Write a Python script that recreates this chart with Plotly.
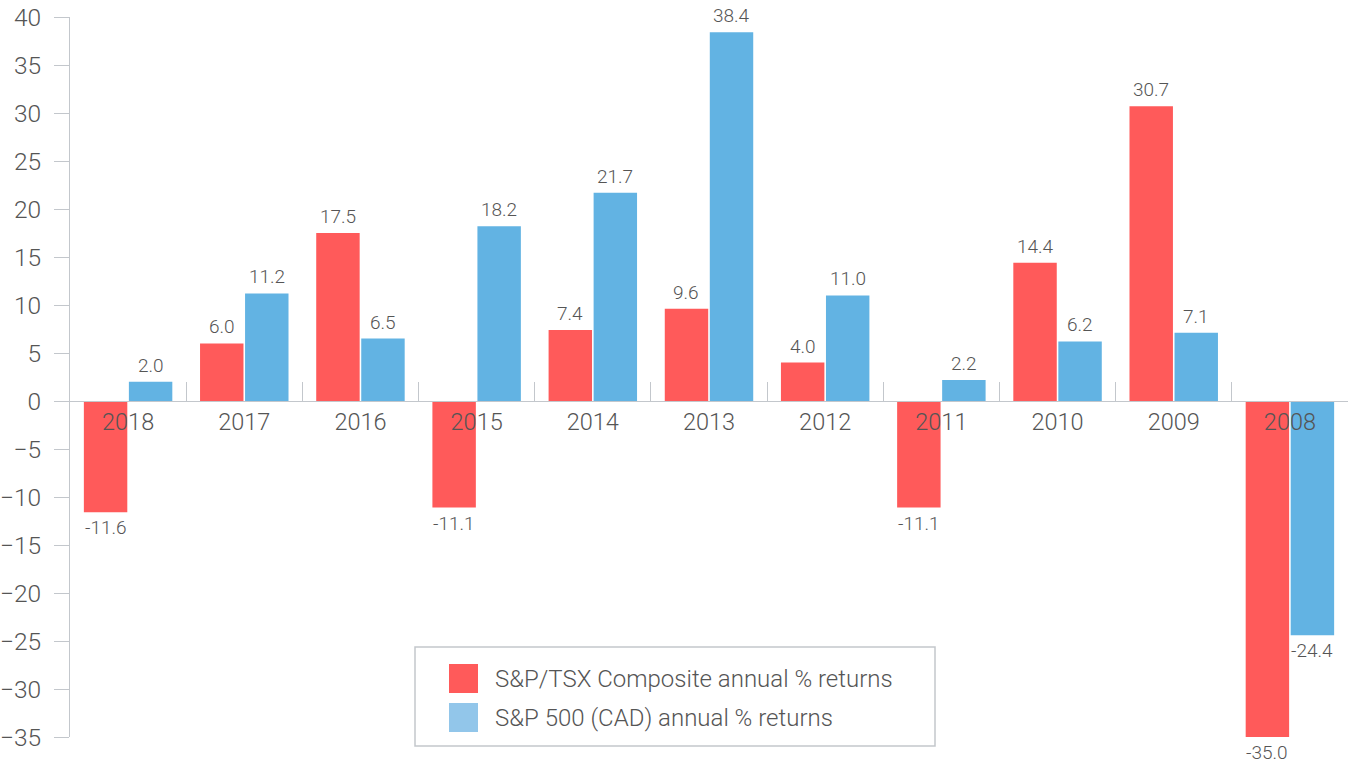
import plotly.graph_objects as go

years = ["2018", "2017", "2016", "2015", "2014", "2013", "2012", "2011", "2010", "2009", "2008"]
tsx = [-11.6, 6.0, 17.5, -11.1, 7.4, 9.6, 4.0, -11.1, 14.4, 30.7, -35.0]
sp500 = [2.0, 11.2, 6.5, 18.2, 21.7, 38.4, 11.0, 2.2, 6.2, 7.1, -24.4]
names = ["S&P/TSX Composite annual % returns", "S&P 500 (CAD) annual % returns"]
y_ticks = list(range(-35, 41, 5))

RED = "#FF5A5A"
BLUE = "#62B3E3"
BLUE_LEG = "#92C6EA"
TXT = "#555555"
AX = "#C3C7CC"
FONT = "Roboto"
WEIGHT = 300

W, H = 1348, 762
ML, MR, MT, MB = 70, 0, 17, 25
BARGAP, GROUPGAP = 0.225, 0.035

fig = go.Figure()
for vals, col, nm in [(tsx, RED, names[0]), (sp500, BLUE, names[1])]:
    fig.add_trace(go.Bar(
        x=years, y=vals, name=nm, marker=dict(color=col, line=dict(width=0)),
        showlegend=False, hoverinfo="x+y",
    ))

# value labels (placed at each bar's value, shifted to its slot in the group)
cat_px = (W - ML - MR) / len(years)
slot = cat_px * (1 - BARGAP) / 2
for k, vals in enumerate([tsx, sp500]):
    shift = (k - 0.5) * slot
    for i, v in enumerate(vals):
        fig.add_annotation(
            x=i, y=v, xref="x", yref="y", showarrow=False,
            text=f"{v:.1f}", xshift=shift,
            yanchor="bottom" if v >= 0 else "top",
            yshift=3 if v >= 0 else -2,
            font=dict(size=19, color=TXT, family=FONT, weight=WEIGHT),
        )

ymin, ymax = -35, 40
zero_pos = (0 - ymin) / (ymax - ymin)

fig.update_layout(
    width=W, height=H,
    margin=dict(l=ML, r=MR, t=MT, b=MB),
    paper_bgcolor="white", plot_bgcolor="white",
    barmode="group", bargap=BARGAP, bargroupgap=GROUPGAP,
    font=dict(family=FONT, color=TXT, weight=WEIGHT),
    xaxis=dict(
        type="category", anchor="free", position=zero_pos,
        range=[-0.5, len(years) - 0.5],
        showline=True, linecolor=AX, linewidth=1,
        ticks="inside", ticklen=19, tickcolor=AX, tickwidth=1,
        tickson="boundaries", showgrid=False,
        tickfont=dict(size=23.5, color=TXT, family=FONT, weight=WEIGHT),
    ),
    yaxis=dict(
        range=[ymin, ymax], tickvals=y_ticks, showgrid=False, zeroline=False,
        showline=True, linecolor=AX, linewidth=1,
        ticks="outside", ticklen=15, tickcolor=AX, tickwidth=1,
        ticklabelstandoff=8,
        tickfont=dict(size=24.5, color=TXT, family=FONT, weight=WEIGHT),
    ),
)

# custom legend box (positions in pixels converted to plot-paper fractions)
pw, ph = W - ML - MR, H - MT - MB
def fx(x):
    return (x - ML) / pw
def fy(y):
    return (H - MB - y) / ph

lx0, lx1, ly0, ly1 = 415, 935, 647, 746
fig.add_shape(type="rect", xref="paper", yref="paper",
              x0=fx(lx0), x1=fx(lx1), y0=fy(ly1), y1=fy(ly0),
              line=dict(color=AX, width=1.5), fillcolor="white", layer="above")
for i, (col, nm) in enumerate([(RED, names[0]), (BLUE_LEG, names[1])]):
    sy0 = 664 + i * 39
    sy1 = sy0 + 29
    fig.add_shape(type="rect", xref="paper", yref="paper",
                  x0=fx(449), x1=fx(478), y0=fy(sy1), y1=fy(sy0),
                  line=dict(width=0), fillcolor=col, layer="above")
    fig.add_annotation(xref="paper", yref="paper",
                       x=fx(493), y=fy(sy0 + 14.5),
                       xanchor="left", yanchor="middle", showarrow=False,
                       text=nm, font=dict(size=24, color=TXT, family=FONT, weight=WEIGHT))

fig.write_html("out.html", config={"displayModeBar": False},
               post_script="document.body.style.margin='0px';")
